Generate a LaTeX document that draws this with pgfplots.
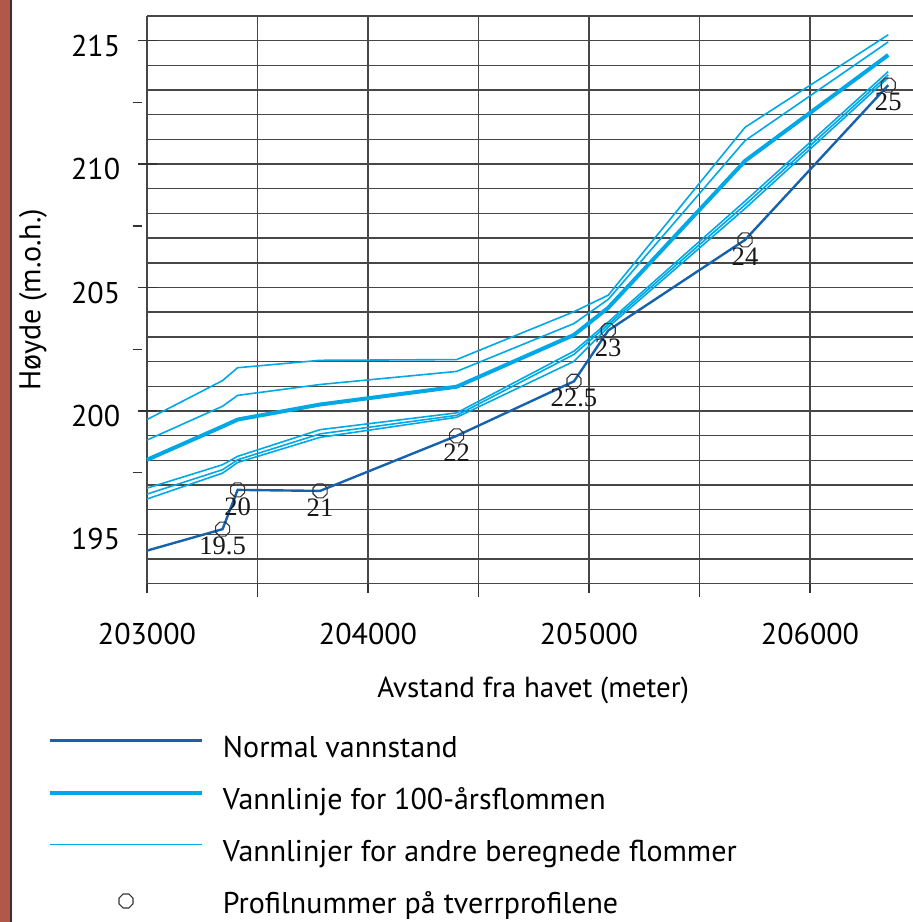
\documentclass[border=0pt]{standalone}
\usepackage{fontspec}
\setmainfont{PT Sans}
\newfontfamily\labfont{Liberation Serif}
\usepackage{pgfplots}
\pgfplotsset{compat=1.18}
\definecolor{nb}{RGB}{22,98,172}
\definecolor{fb}{RGB}{0,168,230}
\definecolor{brn}{RGB}{178,88,74}
\pgfdeclareplotmark{oct}{%
  \pgfpathmoveto{\pgfpointpolar{22.5}{\pgfplotmarksize}}%
  \pgfpathlineto{\pgfpointpolar{67.5}{\pgfplotmarksize}}%
  \pgfpathlineto{\pgfpointpolar{112.5}{\pgfplotmarksize}}%
  \pgfpathlineto{\pgfpointpolar{157.5}{\pgfplotmarksize}}%
  \pgfpathlineto{\pgfpointpolar{202.5}{\pgfplotmarksize}}%
  \pgfpathlineto{\pgfpointpolar{247.5}{\pgfplotmarksize}}%
  \pgfpathlineto{\pgfpointpolar{292.5}{\pgfplotmarksize}}%
  \pgfpathlineto{\pgfpointpolar{337.5}{\pgfplotmarksize}}%
  \pgfpathclose\pgfusepathqstroke}
\pgfplotsset{
  lineleg/.style={legend image code/.code={\draw[##1] (0pt,0pt) -- (76pt,0pt);}},
  markleg/.style={legend image code/.code={\draw[mark repeat=2,mark phase=2,##1] plot coordinates {(0pt,-2.25pt) (38pt,-2.25pt) (76pt,-2.25pt)};}},
}
\pgfplotstableread{
x y
203000 194.34
203342 195.21
203410 196.80
203783 196.76
204401 198.99
204932 201.20
205087 203.26
205706 206.93
206354 213.20
}\normal
\pgfplotstableread{
x a b c d e f
203000 199.65 198.82 198.02 196.87 196.63 196.43
203342 201.23 200.19 199.37 197.82 197.62 197.48
203410 201.75 200.63 199.65 198.16 198.02 197.91
203783 202.05 201.07 200.26 199.24 199.07 198.93
204401 202.08 201.60 200.98 199.92 199.82 199.74
204932 204.02 203.54 203.08 202.42 202.29 202.01
205087 204.69 204.52 204.18 203.60 203.50 203.40
205706 211.49 210.95 210.13 208.50 208.35 208.20
206354 215.24 214.95 214.42 213.75 213.62 213.50
}\flood
\pgfplotstableread{
x y lab
203342 195.21 19.5
203410 196.80 20
203783 196.76 21
204401 198.99 22
204932 201.20 22.5
205087 203.26 23
205706 206.93 24
206354 213.20 25
}\prof
\begin{document}
\begin{tikzpicture}[x=1pt,y=1pt]
\useasboundingbox (0,0) rectangle (456.5,461);
\fill[brn] (0,0) rectangle (4.75,461);
\fill[black!80] (4.75,0) rectangle (6,461);
\begin{axis}[
  at={(73.5pt,169.15pt)}, anchor=south west,
  scale only axis, width=383pt, height=283.85pt,
  xmin=203000, xmax=206466, ymin=193, ymax=216,
  clip=false,
  axis line style={draw=none},
  xtick={203000,204000,205000,206000},
  xticklabels={203000,204000,205000,206000},
  minor xtick={203500,204500,205500},
  ytick={195,200,205,210,215},
  yticklabels={195,200,205,210,215},
  minor ytick={193,194,...,216},
  grid=both,
  major grid style={black!72, line width=0.7pt},
  minor grid style={black!72, line width=0.7pt},
  tick style={draw=none},
  scaled x ticks=false,
  tick label style={font=\fontsize{15}{18}\selectfont},
  xticklabel style={anchor=north, inner sep=0pt, yshift=-19.5pt},
  yticklabel style={anchor=east, inner sep=0pt, xshift=-13.2pt, yshift=-2.5pt},
  xlabel={Avstand fra havet (meter)},
  x label style={at={(axis description cs:0.504,-0.18725)}, anchor=center, font=\fontsize{14.5}{17}\selectfont},
  ylabel={Høyde (m.o.h.)},
  y label style={at={(axis description cs:-0.1488,0.5)}, anchor=center, font=\fontsize{15}{18}\selectfont},
  legend cell align=left,
  legend style={at={(axis description cs:0,0)}, anchor=north west,
    xshift=-49.5pt, yshift=-68.15pt, draw=none, fill=none,
    inner sep=0pt, outer sep=0pt, row sep=5.5pt, column sep=9.5pt,
    font=\fontsize{15}{18}\selectfont,
    nodes={inner sep=0pt, text height=18.5pt, text depth=2pt}},
  lineleg,
]
\addplot[nb, line width=1.2pt] table[x=x,y=y]{\normal};
\addlegendentry{Normal vannstand}
\addplot[fb, line width=2pt] table[x=x,y=c]{\flood};
\addlegendentry{Vannlinje for 100-årsflommen}
\addplot[fb, line width=0.8pt] table[x=x,y=a]{\flood};
\addlegendentry{Vannlinjer for andre beregnede flommer}
\addplot[fb, line width=0.8pt, forget plot] table[x=x,y=b]{\flood};
\addplot[fb, line width=0.8pt, forget plot] table[x=x,y=d]{\flood};
\addplot[fb, line width=0.8pt, forget plot] table[x=x,y=e]{\flood};
\addplot[fb, line width=0.8pt, forget plot] table[x=x,y=f]{\flood};
\addplot[only marks, mark=oct, mark size=3.8pt,
  mark options={draw=black!80, line width=0.55pt},
  point meta=explicit symbolic, nodes near coords={\pgfplotspointmeta},
  every node near coord/.append style={font=\labfont\fontsize{13.3}{15}\selectfont, anchor=center, inner sep=0pt, yshift=-8.5pt, text=black!90},
  markleg
  ] table[x=x,y=y,meta=lab]{\prof};
\addlegendentry{Profilnummer på tverrprofilene}
\pgfplotsinvokeforeach{203000,204000,205000,206000}{
  \draw[black!80, line width=0.7pt] (axis cs:#1,193) -- ++(0pt,-4.5pt);}
\pgfplotsinvokeforeach{203500,204500,205500}{
  \draw[black!80, line width=0.7pt] (axis cs:#1,193) -- ++(0pt,-6.5pt);}
\pgfplotsinvokeforeach{195,200,205,210,215}{
  \draw[black!80, line width=0.7pt] ([xshift=-4.75pt]axis cs:203000,#1) -- ([xshift=4.75pt]axis cs:203000,#1);}
\pgfplotsinvokeforeach{197.5,202.5,207.5,212.5}{
  \draw[black!80, line width=0.7pt] ([xshift=-7.25pt]axis cs:203000,#1) -- ([xshift=-2.5pt]axis cs:203000,#1);}
\end{axis}
\end{tikzpicture}
\end{document}
